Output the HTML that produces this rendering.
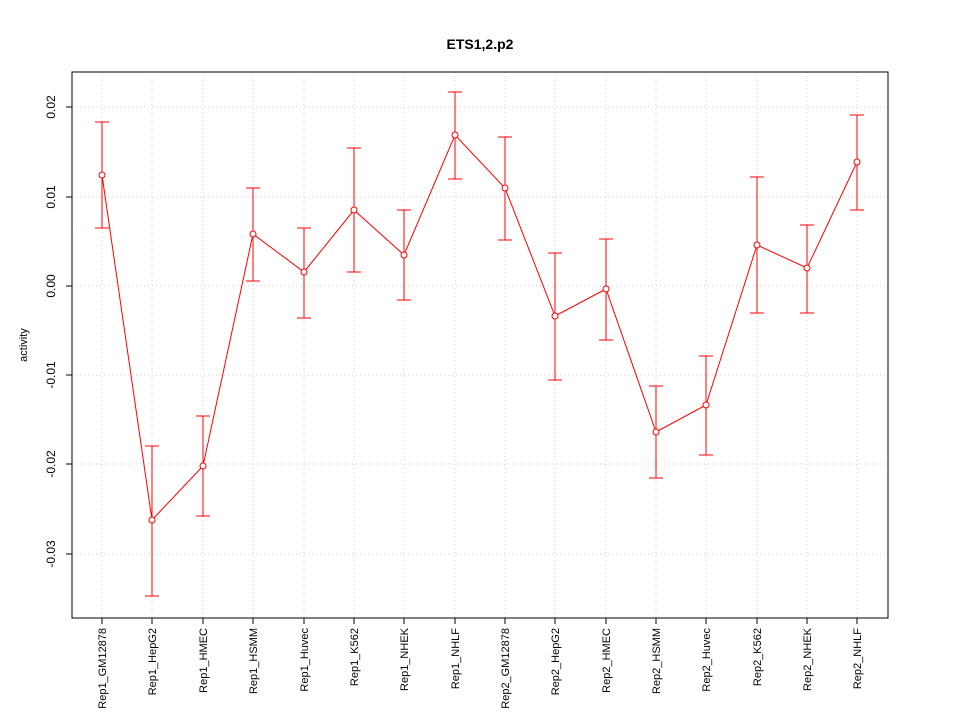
<!DOCTYPE html>
<html><head><meta charset="utf-8"><style>body{margin:0;background:#fff}svg{display:block}</style></head><body>
<svg width="960" height="720" xmlns="http://www.w3.org/2000/svg" font-family="Liberation Sans, sans-serif">
<rect width="960" height="720" fill="#fff"/>
<text x="480" y="49" text-anchor="middle" font-size="14" font-weight="bold">ETS1,2.p2</text>
<g stroke="#ccc" stroke-dasharray="1,3" stroke-width="1">
<line x1="72" x2="888" y1="107" y2="107"/><line x1="72" x2="888" y1="197" y2="197"/><line x1="72" x2="888" y1="286" y2="286"/><line x1="72" x2="888" y1="375" y2="375"/><line x1="72" x2="888" y1="464" y2="464"/><line x1="72" x2="888" y1="554" y2="554"/>
<line x1="102" x2="102" y1="72" y2="618"/><line x1="152" x2="152" y1="72" y2="618"/><line x1="203" x2="203" y1="72" y2="618"/><line x1="253" x2="253" y1="72" y2="618"/><line x1="304" x2="304" y1="72" y2="618"/><line x1="354" x2="354" y1="72" y2="618"/><line x1="404" x2="404" y1="72" y2="618"/><line x1="455" x2="455" y1="72" y2="618"/><line x1="505" x2="505" y1="72" y2="618"/><line x1="555" x2="555" y1="72" y2="618"/><line x1="606" x2="606" y1="72" y2="618"/><line x1="656" x2="656" y1="72" y2="618"/><line x1="706" x2="706" y1="72" y2="618"/><line x1="757" x2="757" y1="72" y2="618"/><line x1="807" x2="807" y1="72" y2="618"/><line x1="857" x2="857" y1="72" y2="618"/>
</g>
<rect x="72" y="72" width="816" height="546" fill="none" stroke="#000"/>
<g stroke="#000">
<line x1="72" x2="66" y1="107" y2="107"/><line x1="72" x2="66" y1="197" y2="197"/><line x1="72" x2="66" y1="286" y2="286"/><line x1="72" x2="66" y1="375" y2="375"/><line x1="72" x2="66" y1="464" y2="464"/><line x1="72" x2="66" y1="554" y2="554"/>
</g>
<g font-size="12" text-anchor="middle">
<text transform="translate(55,107) rotate(-90)">0.02</text>
<text transform="translate(55,197) rotate(-90)">0.01</text>
<text transform="translate(55,286) rotate(-90)">0.00</text>
<text transform="translate(55,375) rotate(-90)">-0.01</text>
<text transform="translate(55,464) rotate(-90)">-0.02</text>
<text transform="translate(55,554) rotate(-90)">-0.03</text>
<text transform="translate(27,345) rotate(-90)" font-size="11">activity</text>
</g>
<g id="xt" stroke="#000"></g>
<g font-size="11" text-anchor="end" id="xl"></g>
<g id="eb" stroke="red" fill="none"></g>
<script>
var xs=[102,152,203,253,304,354,404,455,505,555,606,656,706,757,807,857];
var names=["Rep1_GM12878","Rep1_HepG2","Rep1_HMEC","Rep1_HSMM","Rep1_Huvec","Rep1_K562","Rep1_NHEK","Rep1_NHLF","Rep2_GM12878","Rep2_HepG2","Rep2_HMEC","Rep2_HSMM","Rep2_Huvec","Rep2_K562","Rep2_NHEK","Rep2_NHLF"];
var d=[[175,122,228],[520,446,596],[466,416,516],[234,188,281],[272,228,318],[210,148,272],[255,210,300],[135,92,179],[188,137,240],[316,253,380],[289,239,340],[432,386,478],[405,356,455],[245,177,313],[268,225,313],[162,115,210]];
var ns="http://www.w3.org/2000/svg";
function el(p,t,a,txt){var e=document.createElementNS(ns,t);for(var k in a)e.setAttribute(k,a[k]);if(txt)e.textContent=txt;p.appendChild(e);return e;}
var xt=document.getElementById("xt"),xl=document.getElementById("xl"),eb=document.getElementById("eb");
var pts=[];
for(var i=0;i<16;i++){var x=xs[i];el(xt,"line",{x1:x,x2:x,y1:618,y2:624});
el(xl,"text",{transform:"translate("+(x+4)+",628) rotate(-90)"},names[i]);
var v=d[i];el(eb,"line",{x1:x,x2:x,y1:v[1],y2:v[2]});el(eb,"line",{x1:x-7,x2:x+7,y1:v[1],y2:v[1]});el(eb,"line",{x1:x-7,x2:x+7,y1:v[2],y2:v[2]});
pts.push(x+","+v[0]);}
el(eb,"polyline",{points:pts.join(" ")});
for(var i=0;i<16;i++)el(eb,"circle",{cx:xs[i],cy:d[i][0],r:3,fill:"#fff"});
</script>
</svg>
</body></html>
